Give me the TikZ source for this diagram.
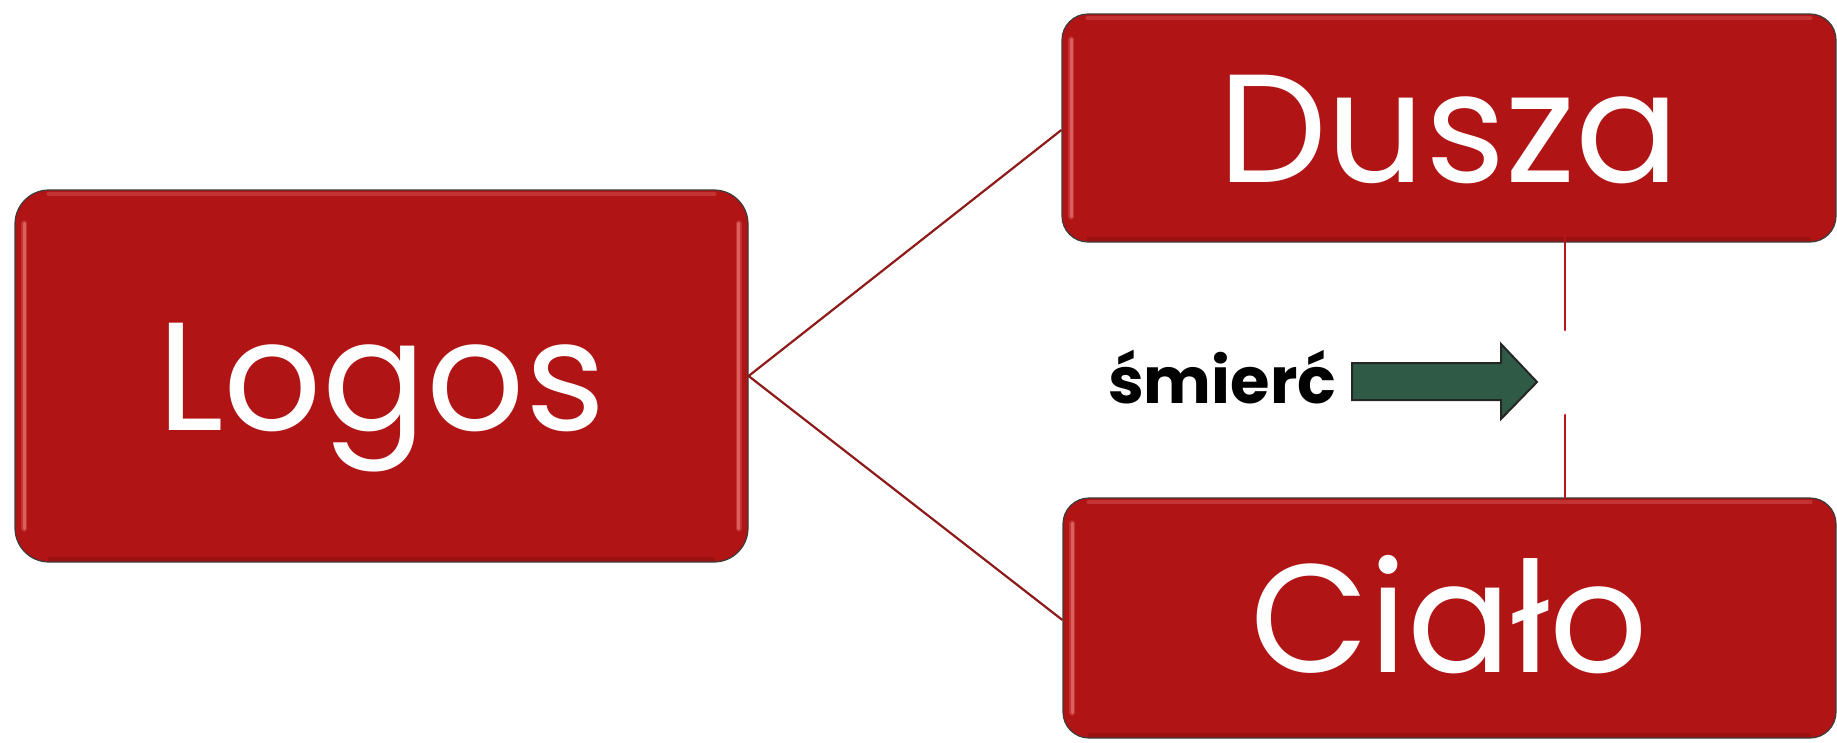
\documentclass[tikz,border=0pt]{standalone}
\usepackage{fontspec}
\setmainfont{Poppins}
\newfontfamily\lblfont{Poppins Bold}
\usetikzlibrary{calc}
\definecolor{boxred}{HTML}{B01414}
\definecolor{edgegray}{HTML}{3C3C3C}
\definecolor{linkred}{HTML}{8E1A1A}
\definecolor{vred}{HTML}{B4161B}
\definecolor{arrowgreen}{HTML}{2F5A45}
\definecolor{shine}{HTML}{EE7B7B}
\begin{document}
\begin{tikzpicture}[x=1pt,y=-1pt,
  redbox/.style={draw=edgegray, line width=1.2pt, fill=boxred, text=white,
    inner sep=0pt, text height=108pt, text depth=0pt,
    font=\fontsize{154}{154}\selectfont},
  shineline/.style={shine, line width=3pt, line cap=round, opacity=0.6},
  link/.style={linkred, line width=2.2pt},
  vlink/.style={vred, line width=2.8pt, line cap=round},
  lbl/.style={text=black, inner sep=0pt, font=\lblfont\fontsize{64}{64}\selectfont}]
\useasboundingbox (0,0) rectangle (1837,742);

\node[redbox, rounded corners=34pt, minimum width=733pt, minimum height=372pt] (logos) at (381.5,376) {Logos};
\node[redbox, rounded corners=26pt, minimum width=774pt, minimum height=228pt] (dusza) at (1449,128) {Dusza};
\node[redbox, rounded corners=26pt, minimum width=773pt, minimum height=240pt] (cialo) at (1449.5,618) {Ciało};

% glossy highlights
\foreach \b/\r in {logos/34, dusza/26, cialo/26}{
  \draw[shineline, line width=6pt, opacity=0.3] ($(\b.north west)+(10,\r)$) -- ($(\b.south west)+(10,-\r)$);
  \draw[shineline] ($(\b.north west)+(10,\r)$) -- ($(\b.south west)+(10,-\r)$);
  \draw[shineline, opacity=0.3, line width=4pt] ($(\b.north west)+(\r,5)$) -- ($(\b.north east)+(-\r,5)$);
  \draw[black, opacity=0.12, line width=4pt] ($(\b.south west)+(\r,-4)$) -- ($(\b.south east)+(-\r,-4)$);
}
\draw[shineline, line width=6pt, opacity=0.3] ($(logos.north east)+(-10,34)$) -- ($(logos.south east)+(-10,-34)$);
\draw[shineline] ($(logos.north east)+(-10,34)$) -- ($(logos.south east)+(-10,-34)$);

% connectors
\coordinate (hub) at (logos.east);
\draw[link] (hub) -- (dusza.west |- 0,130);
\draw[link] (hub) -- (cialo.west |- 0,620);

% vertical link with gap
\coordinate (vtop) at (1565,330);
\coordinate (vbot) at (1565,415);
\draw[vlink] ($(dusza.south -| vtop)+(0,-8)$) -- (vtop);
\draw[vlink] (vbot) -- (cialo.north -| vbot);

% label and arrow
\node[lbl, anchor=base west] (smierc) at (1108,403) {śmierć};
\draw[fill=arrowgreen, draw=black!85, line width=2pt, line join=miter]
  (1352,363) -- (1501,363) -- (1501,344) -- (1537,382) -- (1501,419) -- (1501,400) -- (1352,400) -- cycle;
\end{tikzpicture}
\end{document}
